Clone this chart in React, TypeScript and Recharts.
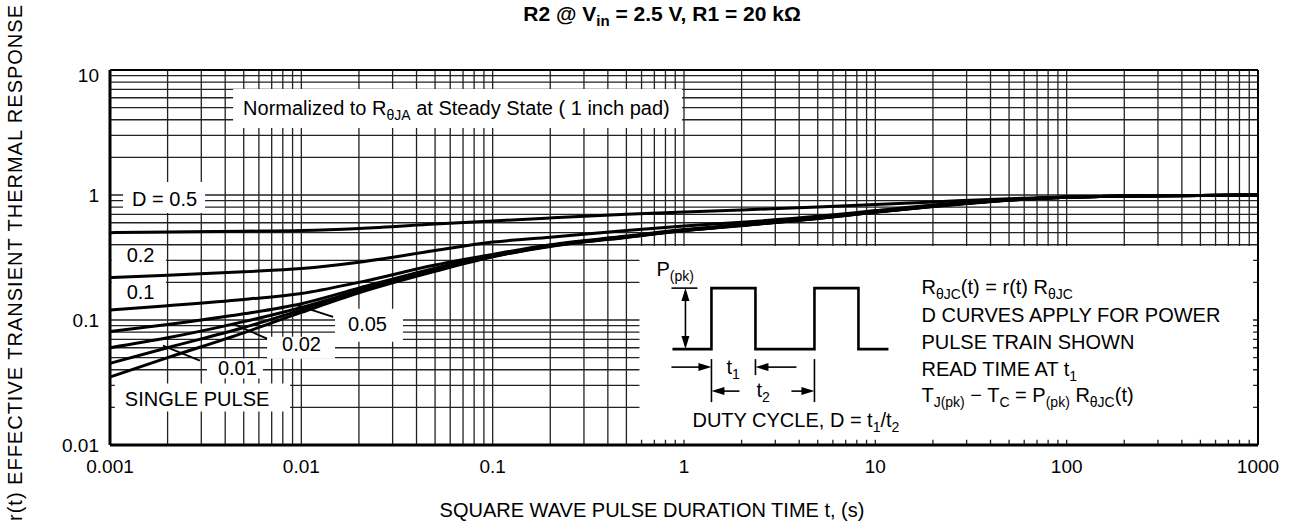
import React from "react";
import {
  LineChart,
  Line,
  XAxis,
  YAxis,
  CartesianGrid,
  ReferenceArea,
  ReferenceLine,
} from "recharts";

// pulse duration t (s)
const times = [0.001, 0.002, 0.005, 0.01, 0.02, 0.05, 0.1, 0.2, 0.5, 1, 2, 5, 10, 20, 50, 100, 200, 500, 1000];

// r(t) per duty cycle
const d050 = [0.5, 0.505, 0.513, 0.52, 0.54, 0.585, 0.62, 0.655, 0.7, 0.73, 0.76, 0.8, 0.84, 0.88, 0.935, 0.965, 0.98, 0.99, 1.0];
const d020 = [0.218, 0.228, 0.243, 0.258, 0.29, 0.36, 0.42, 0.46, 0.52, 0.565, 0.605, 0.675, 0.75, 0.83, 0.92, 0.962, 0.98, 0.99, 1.0];
const d010 = [0.12, 0.13, 0.146, 0.163, 0.2, 0.275, 0.335, 0.4, 0.47, 0.53, 0.58, 0.66, 0.74, 0.82, 0.915, 0.96, 0.98, 0.99, 1.0];
const d005 = [0.081, 0.092, 0.112, 0.135, 0.18, 0.26, 0.328, 0.395, 0.465, 0.525, 0.575, 0.655, 0.735, 0.815, 0.912, 0.96, 0.98, 0.99, 1.0];
const d002 = [0.06, 0.072, 0.097, 0.126, 0.172, 0.255, 0.325, 0.392, 0.462, 0.522, 0.572, 0.652, 0.732, 0.812, 0.91, 0.96, 0.98, 0.99, 1.0];
const d001 = [0.045, 0.06, 0.087, 0.12, 0.168, 0.25, 0.322, 0.39, 0.46, 0.52, 0.57, 0.65, 0.73, 0.81, 0.91, 0.96, 0.98, 0.99, 1.0];
const single = [0.035, 0.05, 0.079, 0.115, 0.165, 0.245, 0.32, 0.388, 0.458, 0.518, 0.568, 0.648, 0.728, 0.808, 0.908, 0.96, 0.98, 0.99, 1.0];

const seriesKeys = ["d050", "d020", "d010", "d005", "d002", "d001", "single"];
const seriesValues = [d050, d020, d010, d005, d002, d001, single];

const xDecades = [0.001, 0.01, 0.1, 1, 10, 100, 1000];
const xTickLabels = ["0.001", "0.01", "0.1", "1", "10", "100", "1000"];
const yDecades = [0.01, 0.1, 1, 10];
const yTickLabels = ["0.01", "0.1", "1", "10"];
const minorSteps = [1, 2, 3, 4, 5, 6, 7, 8, 9];

const data = times.map((t, i) => {
  const row: Record<string, number> = { t };
  seriesKeys.forEach((k, j) => (row[k] = seriesValues[j][i]));
  return row;
});

const logTicks = (decades: number[]) =>
  decades.flatMap((d, i) =>
    i === decades.length - 1 ? [d] : minorSteps.map((k) => +(k * d).toPrecision(3))
  );

const decadeLabel = (v: number, decades: number[], labels: string[]) => {
  const i = decades.findIndex((d) => Math.abs(v / d - 1) < 1e-6);
  return i >= 0 ? labels[i] : "";
};

const FONT = "'Liberation Sans', Arial, Helvetica, sans-serif";

// white label boxes (data units) with text offset from the box corner
const labelBoxes = [
  { x1: 0.00117, x2: 0.00314, y1: 0.718, y2: 1.27, dx: 9, dy: 24, text: [["D = 0.5", false]] },
  { x1: 0.00102, x2: 0.00196, y1: 0.276, y2: 0.392, dx: 15, dy: 16, text: [["0.2", false]] },
  { x1: 0.00102, x2: 0.00196, y1: 0.14, y2: 0.206, dx: 15, dy: 18, text: [["0.1", false]] },
  { x1: 0.015, x2: 0.034, y1: 0.067, y2: 0.123, dx: 13, dy: 22, text: [["0.05", false]] },
  { x1: 0.00662, x2: 0.015, y1: 0.049, y2: 0.0736, dx: 15, dy: 14, text: [["0.02", false]] },
  { x1: 0.00321, x2: 0.0063, y1: 0.034, y2: 0.0491, dx: 11, dy: 16, text: [["0.01", false]] },
  { x1: 0.00106, x2: 0.00873, y1: 0.0185, y2: 0.031, dx: 10, dy: 22, text: [["SINGLE PULSE", false]] },
  {
    x1: 0.0044, x2: 0.977, y1: 3.44, y2: 7.05, dx: 10, dy: 26,
    text: [["Normalized to R", false], ["θJA", true], [" at Steady State ( 1 inch pad)", false]],
  },
];

const leaders = [
  [{ x: 0.00937, y: 0.132 }, { x: 0.01466, y: 0.106 }],
  [{ x: 0.0044, y: 0.093 }, { x: 0.00662, y: 0.071 }],
  [{ x: 0.00189, y: 0.0624 }, { x: 0.00295, y: 0.0473 }],
];

const rich = (segs: any[], fs = 20) => {
  let cur = 0;
  return segs.map(([s, sub]: [string, boolean], i: number) => {
    const target = sub ? 5 : 0;
    const dy = target - cur;
    cur = target;
    return (
      <tspan key={i} dy={dy} fontSize={sub ? 14 : fs}>
        {s}
      </tspan>
    );
  });
};

const boxLabel = (b: any) => (props: any) => {
  const { x, y } = props.viewBox;
  return (
    <text x={x + b.dx} y={y + b.dy} fontFamily={FONT} fontSize={20} fill="#000">
      {rich(b.text)}
    </text>
  );
};

const arrowHead = (x: number, y: number, dir: string) => {
  const L = 13;
  const W = 4;
  let d = "";
  if (dir === "r") d = `M${x},${y} L${x - L},${y - W} L${x - L},${y + W} Z`;
  if (dir === "l") d = `M${x},${y} L${x + L},${y - W} L${x + L},${y + W} Z`;
  if (dir === "u") d = `M${x},${y} L${x - W},${y + L} L${x + W},${y + L} Z`;
  if (dir === "d") d = `M${x},${y} L${x - W},${y - L} L${x + W},${y - L} Z`;
  return <path d={d} fill="#000" />;
};

const noteLines = [
  [["R", false], ["θJC", true], ["(t) = r(t) R", false], ["θJC", true]],
  [["D CURVES APPLY FOR POWER", false]],
  [["PULSE TRAIN SHOWN", false]],
  [["READ TIME AT t", false], ["1", true]],
  [["T", false], ["J(pk)", true], [" − T", false], ["C", true], [" = P", false], ["(pk)", true], [" R", false], ["θJC", true], ["(t)", false]],
];

const PulseNote = (props: any) => {
  const { x: bx, y: by } = props.viewBox;
  const p = (dx: number, dy: number) => `${bx + dx},${by + dy}`;
  const wave = [[33, 103], [72, 103], [72, 42], [116, 42], [116, 103], [175, 103], [175, 42], [219, 42], [219, 103], [249, 103]];
  const line = (a: number[], b: number[], w = 1.6) => (
    <line x1={bx + a[0]} y1={by + a[1]} x2={bx + b[0]} y2={by + b[1]} stroke="#000" strokeWidth={w} />
  );
  return (
    <g fontFamily={FONT} fill="#000">
      <text x={bx + 17} y={by + 30} fontSize={20}>
        {rich([["P", false], ["(pk)", true]])}
      </text>
      {line([32, 42], [58, 42])}
      <polyline points={wave.map((w) => p(w[0], w[1])).join(" ")} fill="none" stroke="#000" strokeWidth={2.6} />
      {line([46, 50], [46, 95])}
      {arrowHead(bx + 46, by + 42, "u")}
      {arrowHead(bx + 46, by + 103, "d")}
      {line([72, 113], [72, 156])}
      {line([116, 113], [116, 129])}
      {line([175, 113], [175, 156])}
      {line([32, 121], [62, 121])}
      {arrowHead(bx + 72, by + 121, "r")}
      {line([126, 121], [157, 121])}
      {arrowHead(bx + 116, by + 121, "l")}
      {line([82, 145], [100, 145])}
      {arrowHead(bx + 72, by + 145, "l")}
      {line([152, 145], [165, 145])}
      {arrowHead(bx + 175, by + 145, "r")}
      <text x={bx + 87} y={by + 128} fontSize={20}>
        {rich([["t", false], ["1", true]])}
      </text>
      <text x={bx + 117} y={by + 151} fontSize={20}>
        {rich([["t", false], ["2", true]])}
      </text>
      <text x={bx + 53} y={by + 181} fontSize={20}>
        {rich([["DUTY CYCLE, D = t", false], ["1", true], ["/t", false], ["2", true]])}
      </text>
      {noteLines.map((segs, i) => (
        <text key={i} x={bx + 282} y={by + [48, 76, 103, 130, 156][i]} fontSize={20}>
          {rich(segs)}
        </text>
      ))}
    </g>
  );
};

const XTick = (props: any) => {
  const { x, y, payload } = props;
  const label = decadeLabel(payload.value, xDecades, xTickLabels);
  if (!label) return null;
  return (
    <text x={x} y={y} dy="0.71em" textAnchor="middle" fontFamily={FONT} fontSize={19} fill="#000">
      {label}
    </text>
  );
};

const YTick = (props: any) => {
  const { x, y, payload } = props;
  const label = decadeLabel(payload.value, yDecades, yTickLabels);
  if (!label) return null;
  const shift = payload.value === 10 ? 5 : 0;
  return (
    <text x={x} y={y + shift} dy="0.35em" textAnchor="end" fontFamily={FONT} fontSize={19} fill="#000">
      {label}
    </text>
  );
};

export default function App() {
  return (
    <div style={{ position: "absolute", left: 0, top: 0, width: 1293, height: 525, background: "#fff", fontFamily: FONT }}>
      <LineChart width={1293} height={525} data={data} margin={{ top: 70, right: 35, bottom: 50, left: 50 }}>
        <CartesianGrid stroke="#222" strokeWidth={1.3} />
        <XAxis
          dataKey="t"
          type="number"
          scale="log"
          domain={[0.001, 1000]}
          allowDataOverflow
          ticks={logTicks(xDecades)}
          interval={0}
          tick={<XTick />}
          tickLine={false}
          tickSize={6}
          tickMargin={9}
          height={30}
          axisLine={{ stroke: "#000", strokeWidth: 3 }}
          label={(p: any) => (
            <text
              x={p.viewBox.x + p.viewBox.width / 2 - 32}
              y={p.viewBox.y + 72}
              textAnchor="middle"
              fontFamily={FONT}
              fontSize={20}
              fill="#000"
            >
              SQUARE WAVE PULSE DURATION TIME t, (s)
            </text>
          )}
        />
        <YAxis
          type="number"
          scale="log"
          domain={[0.01, 10]}
          allowDataOverflow
          ticks={logTicks(yDecades)}
          interval={0}
          tick={<YTick />}
          tickLine={false}
          tickSize={6}
          tickMargin={5}
          width={60}
          axisLine={{ stroke: "#000", strokeWidth: 3 }}
          label={(p: any) => {
            const cx = p.viewBox.x - 28;
            const cy = p.viewBox.y + p.viewBox.height / 2 + 5;
            return (
              <text
                x={cx}
                y={cy}
                transform={`rotate(-90, ${cx}, ${cy})`}
                textAnchor="middle"
                fontFamily={FONT}
                fontSize={20}
                letterSpacing={1}
                fill="#000"
              >
                r(t) EFFECTIVE TRANSIENT THERMAL RESPONSE
              </text>
            );
          }}
        />
        <ReferenceLine y={10} stroke="#000" strokeWidth={2} />
        <ReferenceLine x={1000} stroke="#000" strokeWidth={2} />
        <ReferenceArea x1={0.585} x2={942} y1={0.011} y2={0.39} fill="#fff" fillOpacity={1} stroke="none" label={PulseNote} />
        {labelBoxes.map((b, i) => (
          <ReferenceArea
            key={i}
            x1={b.x1}
            x2={b.x2}
            y1={b.y1}
            y2={b.y2}
            fill="#fff"
            fillOpacity={1}
            stroke="none"
            label={boxLabel(b)}
          />
        ))}
        {seriesKeys.map((k) => (
          <Line
            key={k}
            dataKey={k}
            type="monotone"
            stroke="#000"
            strokeWidth={3}
            dot={false}
            isAnimationActive={false}
          />
        ))}
        {leaders.map((seg, i) => (
          <ReferenceLine key={i} segment={seg} stroke="#000" strokeWidth={1.8} />
        ))}
      </LineChart>
      <div
        style={{
          position: "absolute",
          left: 0,
          top: 2,
          width: 1324,
          textAlign: "center",
          fontWeight: "bold",
          fontSize: 21,
          lineHeight: "24px",
          color: "#000",
          pointerEvents: "none",
        }}
      >
        R2 @ V<sub style={{ fontSize: 15 }}>in</sub> = 2.5 V, R1 = 20 kΩ
      </div>
    </div>
  );
}
